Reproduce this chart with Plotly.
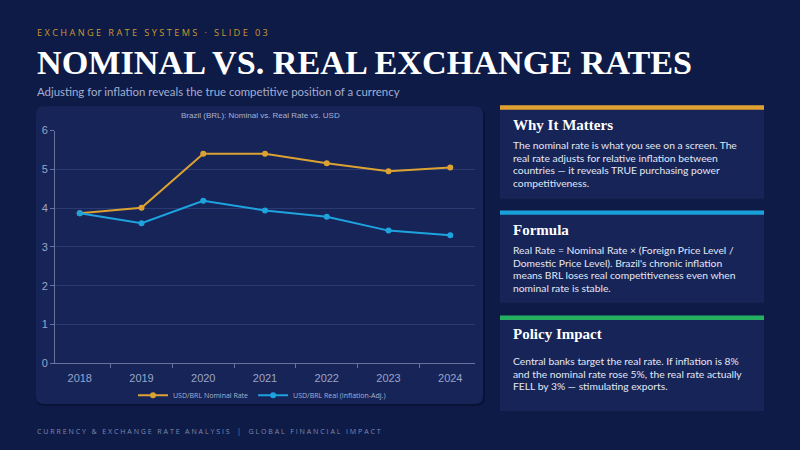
import plotly.graph_objects as go

# data
years = ["2018", "2019", "2020", "2021", "2022", "2023", "2024"]
nominal_rate = [3.87, 4.01, 5.40, 5.40, 5.16, 4.95, 5.05]
real_rate = [3.87, 3.61, 4.19, 3.94, 3.78, 3.42, 3.30]
y_ticks = [0, 1, 2, 3, 4, 5, 6]

card_titles = ["Why It Matters", "Formula", "Policy Impact"]
card_lines = [
    ["The nominal rate is what you see on a screen. The",
     "real rate adjusts for relative inflation between",
     "countries — it reveals TRUE purchasing power",
     "competitiveness."],
    ["Real Rate = Nominal Rate × (Foreign Price Level /",
     "Domestic Price Level). Brazil's chronic inflation",
     "means BRL loses real competitiveness even when",
     "nominal rate is stable."],
    ["Central banks target the real rate. If inflation is 8%",
     "and the nominal rate rose 5%, the real rate actually",
     "FELL by 3% — stimulating exports."],
]

BG = "#0e1b47"
PANEL = "#162458"
ORANGE = "#dba232"
BLUE = "#1ea3de"
W, H = 800, 450


def spaced(text):
    # fake letter-spacing: plotly has no letter-spacing option
    return "   ".join(" ".join(word) for word in text.split(" "))


def px(x):
    return x / W


def py(y):
    return 1 - y / H


def rounded_rect(x0, y0, x1, y1, r):
    X0, X1 = px(x0), px(x1)
    Y0, Y1 = py(y1), py(y0)
    rx, ry = r / W, r / H
    return (f"M {X0 + rx},{Y0} L {X1 - rx},{Y0} Q {X1},{Y0} {X1},{Y0 + ry} "
            f"L {X1},{Y1 - ry} Q {X1},{Y1} {X1 - rx},{Y1} L {X0 + rx},{Y1} "
            f"Q {X0},{Y1} {X0},{Y1 - ry} L {X0},{Y0 + ry} Q {X0},{Y0} {X0 + rx},{Y0} Z")


fig = go.Figure()

fig.add_trace(go.Scatter(
    x=years, y=nominal_rate, name="USD/BRL Nominal Rate",
    mode="lines+markers",
    line=dict(color=ORANGE, width=2),
    marker=dict(color=ORANGE, size=6),
))
fig.add_trace(go.Scatter(
    x=years, y=real_rate, name="USD/BRL Real (Inflation-Adj.)",
    mode="lines+markers",
    line=dict(color=BLUE, width=2),
    marker=dict(color=BLUE, size=6),
))

shapes = []
# chart panel (soft shadow + panel)
shapes.append(dict(type="path", xref="paper", yref="paper",
                   path=rounded_rect(36, 105, 485, 411, 8),
                   fillcolor="rgba(5,10,35,0.45)", line=dict(width=0), layer="below"))
shapes.append(dict(type="path", xref="paper", yref="paper",
                   path=rounded_rect(36, 103, 483, 409, 8),
                   fillcolor=PANEL, line=dict(width=0), layer="below"))

# right-hand cards: (top, bottom, accent colour)
cards = [(102, 198, "#e0a030"), (210, 305, "#1aa0d8"), (318, 416, "#25b060")]
for top, bottom, accent in cards:
    shapes.append(dict(type="rect", xref="paper", yref="paper",
                       x0=px(500), x1=px(764), y0=py(bottom), y1=py(top),
                       fillcolor=PANEL, line=dict(width=0), layer="below"))
    shapes.append(dict(type="rect", xref="paper", yref="paper",
                       x0=px(500), x1=px(764), y0=py(top + 4.5), y1=py(top),
                       fillcolor=accent, line=dict(width=0), layer="below"))

ann = []


def text(x, y, s, size, color, family="Lato", anchor="left"):
    ann.append(dict(x=px(x), y=py(y), xref="paper", yref="paper", text=s,
                    showarrow=False, xanchor=anchor, yanchor="middle", align="left",
                    font=dict(size=size, color=color, family=family)))


text(35, 27, spaced("EXCHANGE RATE SYSTEMS · SLIDE 03"), 9.2, "#c9982e", "Open Sans")
text(35, 58, "<b>NOMINAL VS. REAL EXCHANGE RATES</b>", 34.2, "#ffffff", "Liberation Serif")
text(35, 88, "Adjusting for inflation reveals the true competitive position of a currency",
     11.4, "#a3aed0", "Lato")
text(35, 437, spaced("CURRENCY & EXCHANGE RATE ANALYSIS") + "    |    " + spaced("GLOBAL FINANCIAL IMPACT"),
     7.1, "#7d89b0", "Open Sans")

# chart title
text(260, 113, "Brazil (BRL): Nominal vs. Real Rate vs. USD", 8, "#a9b2cf", "Liberation Sans", anchor="center")

# card headings and body lines
title_y = [122, 230, 337]
body_y = [143, 251, 365]
for title, lines, ty, by in zip(card_titles, card_lines, title_y, body_y):
    text(511, ty, f"<b>{title}</b>", 15, "#ffffff", "Liberation Serif")
    for i, line in enumerate(lines):
        text(511, by + i * 12.9, line, 10.3, "#e2e7f4", "Lato")

fig.update_layout(
    width=W, height=H,
    margin=dict(l=0, r=0, t=0, b=0),
    paper_bgcolor=BG, plot_bgcolor=PANEL,
    shapes=shapes, annotations=ann,
    xaxis=dict(domain=[px(55), px(475)], type="category", tickson="boundaries",
               showgrid=False, showline=True, linecolor="#66739f", linewidth=1,
               ticks="outside", ticklen=4, tickcolor="#66739f", ticklabelstandoff=5,
               tickfont=dict(size=11, color="#9aa4c8", family="Liberation Sans")),
    yaxis=dict(domain=[py(367), py(128)], range=[0, 6], tickvals=y_ticks,
               showgrid=True, gridcolor="#2a3a72", gridwidth=1, zeroline=False,
               showline=True, linecolor="#66739f", linewidth=1,
               ticks="outside", ticklen=4, tickcolor="#66739f",
               tickfont=dict(size=11, color="#9aa4c8", family="Liberation Sans")),
    legend=dict(orientation="h", x=px(262), xanchor="center", y=py(400), yanchor="middle",
                bgcolor="rgba(0,0,0,0)",
                font=dict(size=7, color="#a9b2cf", family="Open Sans")),
)

# the page has a default 8px body margin; drop it so the figure fills the window
fig.write_html("out.html", config={"displayModeBar": False},
               post_script="document.body.style.margin='0px';")
